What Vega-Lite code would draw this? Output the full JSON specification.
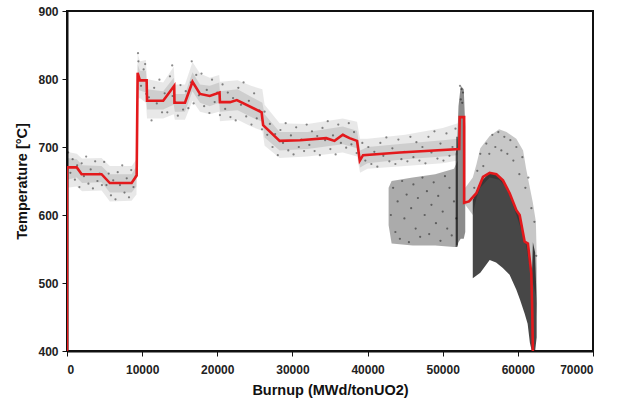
{
  "$schema": "https://vega.github.io/schema/vega-lite/v6.json",
  "width": 526,
  "height": 340,
  "autosize": "none",
  "padding": {"left": 67, "top": 11, "right": 24, "bottom": 54},
  "background": "white",
  "config": {
    "view": {"stroke": "#111", "strokeWidth": 2},
    "axis": {
      "grid": false,
      "domainColor": "#111",
      "domainWidth": 2,
      "tickColor": "#111",
      "tickSize": 5,
      "tickWidth": 1,
      "labelFont": "Liberation Sans",
      "labelFontWeight": "bold",
      "labelFontSize": 12,
      "labelColor": "#222",
      "titleFont": "Liberation Sans",
      "titleFontWeight": "bold",
      "titleFontSize": 14.5,
      "titleColor": "#111"
    }
  },
  "layer": [
    {
      "data": {"values": [
        {"x":0,"lo":640,"hi":693,"lo2":652,"hi2":684},
        {"x":1300,"lo":642,"hi":690,"lo2":655,"hi2":682},
        {"x":2000,"lo":635,"hi":683,"lo2":647,"hi2":673},
        {"x":4600,"lo":636,"hi":684,"lo2":648,"hi2":672},
        {"x":5700,"lo":620,"hi":672,"lo2":633,"hi2":660},
        {"x":8600,"lo":621,"hi":672,"lo2":633,"hi2":660},
        {"x":9250,"lo":630,"hi":682,"lo2":642,"hi2":672},
        {"x":9400,"lo":770,"hi":838,"lo2":785,"hi2":822},
        {"x":9700,"lo":772,"hi":826,"lo2":783,"hi2":812},
        {"x":10500,"lo":765,"hi":828,"lo2":780,"hi2":812},
        {"x":10650,"lo":742,"hi":800,"lo2":755,"hi2":785},
        {"x":12800,"lo":742,"hi":795,"lo2":755,"hi2":782},
        {"x":14200,"lo":748,"hi":818,"lo2":762,"hi2":802},
        {"x":14350,"lo":740,"hi":792,"lo2":752,"hi2":778},
        {"x":15700,"lo":740,"hi":792,"lo2":752,"hi2":778},
        {"x":16700,"lo":768,"hi":825,"lo2":782,"hi2":810},
        {"x":17700,"lo":752,"hi":808,"lo2":765,"hi2":792},
        {"x":19000,"lo":748,"hi":802,"lo2":760,"hi2":790},
        {"x":20250,"lo":752,"hi":806,"lo2":765,"hi2":795},
        {"x":20350,"lo":738,"hi":796,"lo2":752,"hi2":782},
        {"x":22700,"lo":740,"hi":798,"lo2":754,"hi2":785},
        {"x":24500,"lo":730,"hi":790,"lo2":744,"hi2":774},
        {"x":26000,"lo":724,"hi":785,"lo2":737,"hi2":765},
        {"x":26300,"lo":702,"hi":762,"lo2":714,"hi2":748},
        {"x":28300,"lo":684,"hi":735,"lo2":695,"hi2":722},
        {"x":32000,"lo":686,"hi":734,"lo2":697,"hi2":722},
        {"x":36700,"lo":692,"hi":742,"lo2":704,"hi2":730},
        {"x":38600,"lo":686,"hi":737,"lo2":698,"hi2":724},
        {"x":39000,"lo":662,"hi":712,"lo2":670,"hi2":695},
        {"x":40000,"lo":668,"hi":712,"lo2":676,"hi2":700},
        {"x":45000,"lo":672,"hi":718,"lo2":682,"hi2":705},
        {"x":50000,"lo":676,"hi":728,"lo2":686,"hi2":710},
        {"x":52000,"lo":680,"hi":735,"lo2":688,"hi2":712}
      ]},
      "layer": [
        {"mark": {"type": "area", "color": "#000", "opacity": 0.09},
         "encoding": {
           "x": {"field": "x", "type": "quantitative", "title": "Burnup (MWd/tonUO2)", "scale": {"domain": [0, 70000], "nice": false}, "axis": {"values": [0,10000,20000,30000,40000,50000,60000,70000], "format": "d", "labelPadding": 8, "titlePadding": 8}},
           "y": {"field": "lo", "type": "quantitative", "title": "Temperature [°C]", "scale": {"domain": [400, 900], "nice": false}, "axis": {"values": [400,500,600,700,800,900], "labelPadding": 4, "titlePadding": 8}},
           "y2": {"field": "hi"}
         }},
        {"mark": {"type": "area", "color": "#000", "opacity": 0.11},
         "encoding": {
           "x": {"field": "x", "type": "quantitative", "title": "Burnup (MWd/tonUO2)"},
           "y": {"field": "lo2", "type": "quantitative", "title": "Temperature [°C]"},
           "y2": {"field": "hi2"}
         }}
      ]
    },
    {
      "data": {"values": [
        {"x":42800,"lo":585,"hi":640},
        {"x":43200,"lo":558,"hi":650},
        {"x":46000,"lo":555,"hi":655},
        {"x":49000,"lo":555,"hi":660},
        {"x":51500,"lo":553,"hi":668},
        {"x":52000,"lo":553,"hi":680}
      ]},
      "mark": {"type": "area", "color": "#000", "opacity": 0.33},
      "encoding": {
        "x": {"field": "x", "type": "quantitative", "title": "Burnup (MWd/tonUO2)"},
        "y": {"field": "lo", "type": "quantitative", "title": "Temperature [°C]"},
        "y2": {"field": "hi"}
      }
    },
    {
      "data": {"values": [
        {"x":51700,"lo":553,"hi":690},
        {"x":51900,"lo":553,"hi":700},
        {"x":52100,"lo":560,"hi":760},
        {"x":52400,"lo":565,"hi":790},
        {"x":52800,"lo":565,"hi":785},
        {"x":53000,"lo":575,"hi":730}
      ]},
      "mark": {"type": "area", "color": "#000", "opacity": 0.45},
      "encoding": {
        "x": {"field": "x", "type": "quantitative", "title": "Burnup (MWd/tonUO2)"},
        "y": {"field": "lo", "type": "quantitative", "title": "Temperature [°C]"},
        "y2": {"field": "hi"}
      }
    },
    {
      "data": {"values": [
        {"x":51900,"lo":555,"hi":715}
      ]},
      "mark": {"type": "rule", "color": "#000", "opacity": 0.6, "strokeWidth": 1.5},
      "encoding": {
        "x": {"field": "x", "type": "quantitative", "title": "Burnup (MWd/tonUO2)"},
        "y": {"field": "lo", "type": "quantitative", "title": "Temperature [°C]"},
        "y2": {"field": "hi"}
      }
    },
    {
      "data": {"values": [
        {"x":53000,"lo":615,"hi":640},
        {"x":54000,"lo":600,"hi":655},
        {"x":54500,"lo":625,"hi":675},
        {"x":55000,"lo":640,"hi":698},
        {"x":56250,"lo":655,"hi":716},
        {"x":57500,"lo":652,"hi":726},
        {"x":58500,"lo":640,"hi":722},
        {"x":59800,"lo":600,"hi":712},
        {"x":60700,"lo":570,"hi":695},
        {"x":61100,"lo":555,"hi":668},
        {"x":61600,"lo":520,"hi":640},
        {"x":62000,"lo":500,"hi":618},
        {"x":62400,"lo":480,"hi":590},
        {"x":62550,"lo":450,"hi":520}
      ]},
      "mark": {"type": "area", "color": "#000", "opacity": 0.22},
      "encoding": {
        "x": {"field": "x", "type": "quantitative", "title": "Burnup (MWd/tonUO2)"},
        "y": {"field": "lo", "type": "quantitative", "title": "Temperature [°C]"},
        "y2": {"field": "hi"}
      }
    },
    {
      "data": {"values": [
        {"x":54000,"lo":507,"hi":622},
        {"x":55000,"lo":515,"hi":648},
        {"x":56250,"lo":534,"hi":662},
        {"x":57100,"lo":530,"hi":660},
        {"x":58000,"lo":522,"hi":651},
        {"x":58900,"lo":512,"hi":632},
        {"x":59800,"lo":490,"hi":607},
        {"x":60300,"lo":475,"hi":598},
        {"x":60900,"lo":455,"hi":561},
        {"x":61300,"lo":440,"hi":558},
        {"x":61600,"lo":412,"hi":530},
        {"x":61850,"lo":400,"hi":500},
        {"x":62000,"lo":400,"hi":560},
        {"x":62300,"lo":400,"hi":545},
        {"x":62500,"lo":420,"hi":470}
      ]},
      "mark": {"type": "area", "color": "#000", "opacity": 0.72},
      "encoding": {
        "x": {"field": "x", "type": "quantitative", "title": "Burnup (MWd/tonUO2)"},
        "y": {"field": "lo", "type": "quantitative", "title": "Temperature [°C]"},
        "y2": {"field": "hi"}
      }
    },
    {
      "data": {"values": [
        {"x":150,"y":692},{"x":450,"y":662},{"x":750,"y":682},{"x":1050,"y":652},{"x":1350,"y":673},{"x":1650,"y":641},{"x":1950,"y":676},{"x":2250,"y":657},{"x":2550,"y":686},{"x":2850,"y":646},{"x":3150,"y":667},{"x":3450,"y":639},{"x":3750,"y":679},{"x":4050,"y":650},{"x":4350,"y":661},{"x":4650,"y":644},{"x":4950,"y":678},{"x":5250,"y":644},{"x":5550,"y":661},{"x":5850,"y":629},{"x":6150,"y":651},{"x":6450,"y":623},{"x":6750,"y":663},{"x":7050,"y":644},{"x":7350,"y":673},{"x":7650,"y":633},{"x":7950,"y":654},{"x":8250,"y":626},{"x":8550,"y":666},{"x":8850,"y":641},{"x":9150,"y":657},
        {"x":9450,"y":838},{"x":9500,"y":826},{"x":9850,"y":790},{"x":10200,"y":814},{"x":10400,"y":822},{"x":10550,"y":778},{"x":10900,"y":773},{"x":11250,"y":739},{"x":11600,"y":787},{"x":11950,"y":764},{"x":12300,"y":799},{"x":12650,"y":751},{"x":13000,"y":779},{"x":13350,"y":751},{"x":13700,"y":804},{"x":14000,"y":820},{"x":14050,"y":775},{"x":14400,"y":766},{"x":14750,"y":746},{"x":15100,"y":791},{"x":15450,"y":755},{"x":15800,"y":782},{"x":16150,"y":757},{"x":16500,"y":795},{"x":16600,"y":826},{"x":16850,"y":764},{"x":17200,"y":806},{"x":17550,"y":776},{"x":17900,"y":808},{"x":18250,"y":760},{"x":18600,"y":784},{"x":18950,"y":750},{"x":19300,"y":799},{"x":19650,"y":766},{"x":20000,"y":780},{"x":20350,"y":747},{"x":20700,"y":792},{"x":21050,"y":756},{"x":21400,"y":780},{"x":21750,"y":744},{"x":22100,"y":772},{"x":22450,"y":739},{"x":22800,"y":787},{"x":23150,"y":762},{"x":23500,"y":795},{"x":23850,"y":745},{"x":24200,"y":768},{"x":24550,"y":733},{"x":24900,"y":779},{"x":25250,"y":742},{"x":25600,"y":754},{"x":25950,"y":726},
        {"x":26300,"y":752},{"x":26650,"y":718},{"x":27000,"y":734},{"x":27350,"y":700},{"x":27700,"y":719},{"x":28050,"y":688},{"x":28400,"y":725},{"x":28750,"y":706},{"x":29100,"y":735},{"x":29450,"y":695},{"x":29800,"y":717},{"x":30150,"y":689},{"x":30500,"y":729},{"x":30850,"y":700},{"x":31200,"y":711},{"x":31550,"y":694},{"x":31900,"y":733},{"x":32250,"y":703},{"x":32600,"y":723},{"x":32950,"y":694},{"x":33300,"y":716},{"x":33650,"y":688},{"x":34000,"y":728},{"x":34350,"y":710},{"x":34700,"y":738},{"x":35050,"y":697},{"x":35400,"y":717},{"x":35750,"y":689},{"x":36100,"y":733},{"x":36450,"y":706},{"x":36800,"y":718},{"x":37150,"y":699},{"x":37500,"y":735},{"x":37850,"y":704},{"x":38200,"y":722},{"x":38550,"y":691},
        {"x":39300,"y":706},{"x":39700,"y":680},{"x":40100,"y":700},{"x":40500,"y":675},{"x":40900,"y":693},{"x":41300,"y":671},{"x":41700,"y":706},{"x":42100,"y":687},{"x":42500,"y":714},{"x":42900,"y":679},{"x":43300,"y":698},{"x":43700,"y":675},{"x":44100,"y":711},{"x":44500,"y":682},{"x":44900,"y":693},{"x":45300,"y":679},{"x":45700,"y":715},{"x":46100,"y":685},{"x":46500,"y":707},{"x":46900,"y":680},{"x":47300,"y":700},{"x":47700,"y":676},{"x":48100,"y":715},{"x":48500,"y":692},{"x":48900,"y":723},{"x":49300,"y":683},{"x":49700,"y":705},{"x":50100,"y":680},{"x":50500,"y":720},{"x":50900,"y":687},{"x":51300,"y":700},{"x":51700,"y":727},
        {"x":52300,"y":790},{"x":52500,"y":785},{"x":52700,"y":780},{"x":52400,"y":770},{"x":52600,"y":765},
        {"x":43100,"y":600},{"x":43400,"y":640},{"x":43700,"y":575},{"x":44000,"y":620},{"x":44300,"y":565},{"x":44600,"y":650},{"x":44900,"y":595},{"x":45200,"y":630},{"x":45500,"y":560},{"x":45800,"y":610},{"x":46100,"y":645},{"x":46400,"y":580},{"x":46700,"y":625},{"x":47000,"y":568},{"x":47300,"y":655},{"x":47600,"y":600},{"x":47900,"y":635},{"x":48200,"y":572},{"x":48500,"y":615},{"x":48800,"y":648},{"x":49100,"y":588},{"x":49400,"y":628},{"x":49700,"y":562},{"x":50000,"y":605},{"x":50300,"y":657},{"x":50600,"y":580},{"x":50900,"y":640},{"x":51200,"y":570},{"x":51500,"y":620},{"x":51800,"y":595},
        {"x":54200,"y":640},{"x":54600,"y":665},{"x":55000,"y":690},{"x":55400,"y":672},{"x":55800,"y":705},{"x":56200,"y":690},{"x":56600,"y":718},{"x":57000,"y":700},{"x":57400,"y":722},{"x":57800,"y":695},{"x":58200,"y":715},{"x":58600,"y":690},{"x":59000,"y":710},{"x":59400,"y":680},{"x":59800,"y":700},{"x":60200,"y":660},{"x":60600,"y":685},{"x":61000,"y":640},{"x":61400,"y":655},{"x":61800,"y":610},{"x":62200,"y":590},{"x":62450,"y":540}
      ]},
      "mark": {"type": "circle", "color": "#000", "opacity": 0.45, "size": 5},
      "encoding": {
        "x": {"field": "x", "type": "quantitative", "title": "Burnup (MWd/tonUO2)"},
        "y": {"field": "y", "type": "quantitative", "title": "Temperature [°C]"}
      }
    },
    {
      "data": {"values": [
        {"x":0,"y":400},{"x":0,"y":670},{"x":1300,"y":670},{"x":1950,"y":660},{"x":4600,"y":660},{"x":5700,"y":647},{"x":8600,"y":647},{"x":9270,"y":658},{"x":9400,"y":809},{"x":9700,"y":798},{"x":10600,"y":798},{"x":10650,"y":768},{"x":12800,"y":768},{"x":14270,"y":790},{"x":14300,"y":765},{"x":15700,"y":765},{"x":16700,"y":796},{"x":17700,"y":778},{"x":19000,"y":775},{"x":20300,"y":780},{"x":20350,"y":766},{"x":21700,"y":766},{"x":22600,"y":769},{"x":25900,"y":751},{"x":26100,"y":732},{"x":28300,"y":709},{"x":31000,"y":710},{"x":34500,"y":713},{"x":35600,"y":709},{"x":36700,"y":718},{"x":37600,"y":713},{"x":38600,"y":709},{"x":38960,"y":680},{"x":39400,"y":688},{"x":44300,"y":692},{"x":52200,"y":697},{"x":52260,"y":744},{"x":52850,"y":744},{"x":52850,"y":618},{"x":53500,"y":620},{"x":54480,"y":632},{"x":55360,"y":656},{"x":56250,"y":662},{"x":57140,"y":660},{"x":58020,"y":651},{"x":58910,"y":632},{"x":59800,"y":607},{"x":60240,"y":600},{"x":60900,"y":561},{"x":61340,"y":558},{"x":61790,"y":514},{"x":61920,"y":456},{"x":62000,"y":400}
      ]},
      "mark": {"type": "line", "color": "#e3191c", "strokeWidth": 2.6, "clip": true},
      "encoding": {
        "x": {"field": "x", "type": "quantitative", "sort": null, "title": "Burnup (MWd/tonUO2)"},
        "y": {"field": "y", "type": "quantitative", "title": "Temperature [°C]"}
      }
    }
  ]
}
